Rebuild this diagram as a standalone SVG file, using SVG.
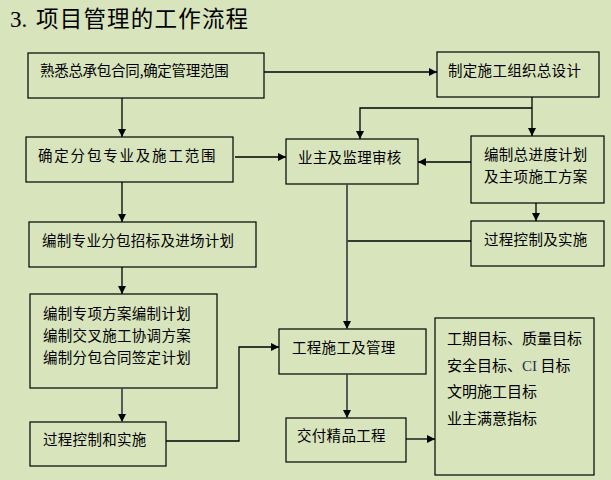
<svg xmlns="http://www.w3.org/2000/svg" width="611" height="480" viewBox="0 0 611 480">
<defs>
<style>
.box{fill:none;stroke:#000;stroke-width:1.2}
.t{font-family:"Noto Sans CJK SC","Liberation Sans",sans-serif;font-size:14.5px;fill:#000}
.big{font-size:15px}
.c{fill:none;stroke:#000;stroke-width:1.3}
.g{stroke:#4a4a4a;stroke-width:1.8}
</style>
<marker id="a" viewBox="0 0 10 10" refX="10" refY="5" markerWidth="8" markerHeight="8" markerUnits="userSpaceOnUse" orient="auto">
<path d="M0,0 L10,5 L0,10 Z" fill="#000"/>
</marker>
</defs>
<rect width="611" height="480" fill="#d8e4bc"/>
<text x="10" y="27" font-family="'Liberation Serif',serif" font-size="23" fill="#000">3.</text>
<text x="36" y="27" font-family="'Noto Sans CJK SC',sans-serif" font-size="22.5" letter-spacing="1.2" fill="#000">项目管理的工作流程</text>

<g id="n1"><rect class="box" x="28" y="53" width="236" height="45"/><text class="t" x="40" y="76" letter-spacing="-0.3">熟悉总承包合同,确定管理范围</text></g>
<g id="n2"><rect class="box" x="26" y="137" width="207" height="45"/><text class="t" x="38" y="161" letter-spacing="1.8">确定分包专业及施工范围</text></g>
<g id="n3"><rect class="box" x="29" y="222" width="227" height="45"/><text class="t" x="42" y="246" letter-spacing="0.3">编制专业分包招标及进场计划</text></g>
<g id="n4"><rect class="box" x="30" y="294" width="187" height="94"/>
<text class="t" x="43" y="319" letter-spacing="0.3">编制专项方案编制计划</text>
<text class="t" x="43" y="341" letter-spacing="0.3">编制交叉施工协调方案</text>
<text class="t" x="43" y="363" letter-spacing="0.3">编制分包合同签定计划</text></g>
<g id="n5"><rect class="box" x="30" y="422" width="136" height="44"/><text class="t" x="43" y="445" letter-spacing="0.3">过程控制和实施</text></g>
<g id="n6"><rect class="box" x="286" y="139" width="132" height="45"/><text class="t" x="298" y="163" letter-spacing="0.3">业主及监理审核</text></g>
<g id="n7"><rect class="box" x="437" y="52" width="162" height="45"/><text class="t" x="448" y="76" letter-spacing="0.3">制定施工组织总设计</text></g>
<g id="n8"><rect class="box" x="471" y="136" width="133" height="67"/>
<text class="t" x="484" y="160" letter-spacing="0.3">编制总进度计划</text>
<text class="t" x="484" y="182" letter-spacing="0.3">及主项施工方案</text></g>
<g id="n9"><rect class="box" x="471" y="221" width="133" height="45"/><text class="t" x="484" y="245" letter-spacing="0.3">过程控制及实施</text></g>
<g id="n10"><rect class="box" x="279" y="329" width="147" height="45"/><text class="t" x="292" y="353" letter-spacing="0.3">工程施工及管理</text></g>
<g id="n11"><rect class="box" x="286" y="418" width="120" height="44"/><text class="t" x="297" y="441" letter-spacing="0.3">交付精品工程</text></g>
<g id="n12"><rect class="box" x="435" y="318" width="159" height="157"/>
<text class="t big" x="447" y="344">工期目标、质量目标</text>
<text class="t big" x="447" y="371">安全目标、<tspan font-family="'Liberation Serif',serif" fill="#1f2f5a">CI</tspan> 目标</text>
<text class="t big" x="447" y="397">文明施工目标</text>
<text class="t big" x="447" y="424">业主满意指标</text></g>

<g id="connectors">
<path class="c" d="M122,98 V137" marker-end="url(#a)"/>
<path class="c" d="M122,182 V222" marker-end="url(#a)"/>
<path class="c" d="M122,267 V294" marker-end="url(#a)"/>
<path class="c g" d="M122,388 V422" marker-end="url(#a)"/>
<path class="c" d="M264,72 H437" marker-end="url(#a)"/>
<path class="c" d="M235,157 H286" marker-end="url(#a)"/>
<path class="c" d="M532,97 V136" marker-end="url(#a)"/>
<path class="c" d="M532,108 H360 V139" marker-end="url(#a)"/>
<path class="c" d="M471,162 H418" marker-end="url(#a)"/>
<path class="c" d="M536,203 V221" marker-end="url(#a)"/>
<path class="c" d="M471,241 H347"/>
<path class="c g" d="M347,184 V329" marker-end="url(#a)"/>
<path class="c g" d="M347,374 V418" marker-end="url(#a)"/>
<path class="c" d="M406,439 H435" marker-end="url(#a)"/>
<path class="c" d="M166,441 H239 V347 H279" marker-end="url(#a)"/>
</g>
</svg>
